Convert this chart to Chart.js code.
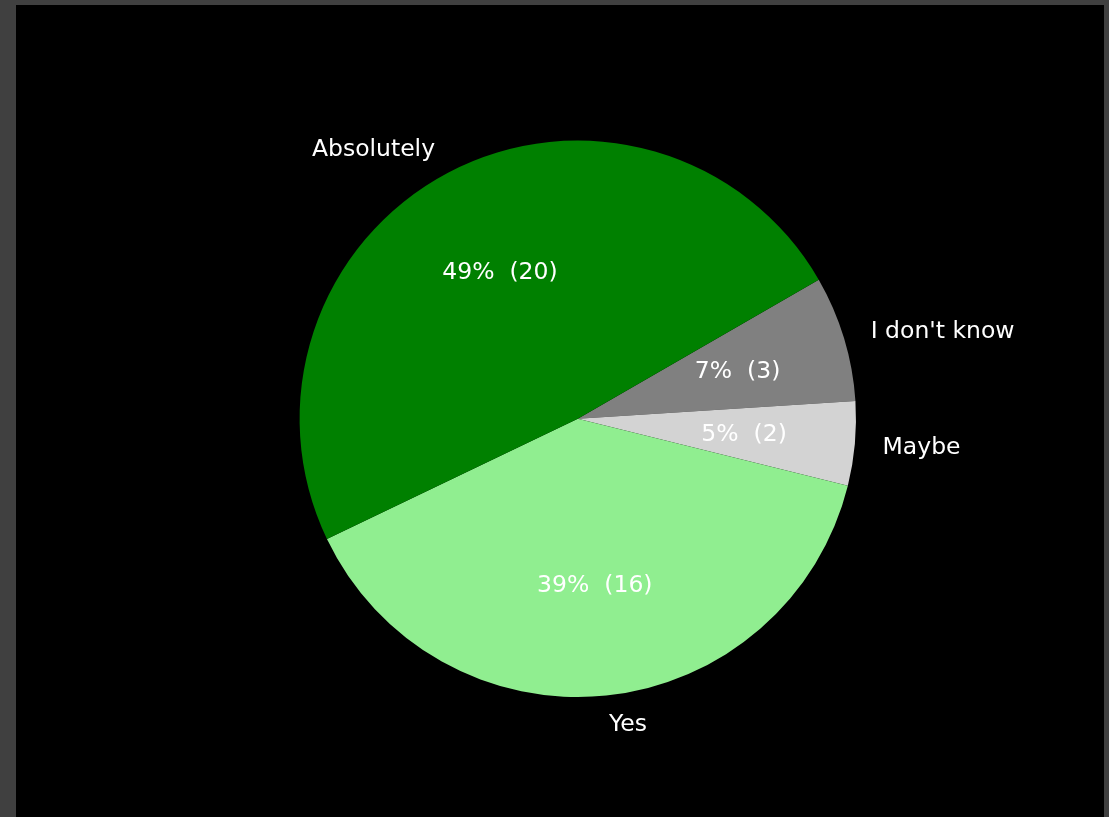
<!DOCTYPE html>
<html>
<head>
<meta charset="utf-8">
<title>Survey responses</title>
<script src="https://cdn.jsdelivr.net/npm/chart.js@4/dist/chart.umd.min.js"></script>
<style>
  html, body { margin: 0; padding: 0; background: #404040; width: 1109px; height: 817px; overflow: hidden; }
  #wrap { position: absolute; left: 16px; top: 5px; width: 1088px; height: 812px; background: #000; }
  canvas { display: block; }
</style>
</head>
<body>
<div id="wrap"><canvas id="pie" width="1088" height="812"></canvas></div>
<script>
// Answers, in drawing order (clockwise from the upper right)
const categories = ["I don't know", "Maybe", "Yes", "Absolutely"];
const counts = [3, 2, 16, 20];
const sliceColors = ["#808080", "#d3d3d3", "#90ee90", "#008000"];

const LABEL_FONT = '23.5px "DejaVu Sans", sans-serif';

// Writes each category name outside its slice and "pct%  (n)" inside it
const sliceLabels = {
  id: 'sliceLabels',
  afterDatasetsDraw(chart) {
    const ctx = chart.ctx;
    const meta = chart.getDatasetMeta(0);
    const values = chart.data.datasets[0].data;
    const total = values.reduce((a, b) => a + b, 0);
    const dy = 1.5; // small baseline nudge so the text box sits centred on its anchor
    ctx.save();
    ctx.font = LABEL_FONT;
    ctx.fillStyle = '#ffffff';
    ctx.textBaseline = 'middle';
    meta.data.forEach((arc, i) => {
      const p = arc.getProps(['x', 'y', 'startAngle', 'endAngle', 'outerRadius'], true);
      const mid = (p.startAngle + p.endAngle) / 2;
      const c = Math.cos(mid), s = Math.sin(mid);
      // category name
      ctx.textAlign = c >= 0 ? 'left' : 'right';
      ctx.fillText(chart.data.labels[i], p.x + c * p.outerRadius * 1.1, p.y + s * p.outerRadius * 1.1 + dy);
      // share and count
      const pct = Math.round(values[i] / total * 100);
      ctx.textAlign = 'center';
      ctx.fillText(pct + '%  (' + values[i] + ')', p.x + c * p.outerRadius * 0.6, p.y + s * p.outerRadius * 0.6 + dy);
    });
    ctx.restore();
  }
};

new Chart(document.getElementById('pie'), {
  type: 'pie',
  data: {
    labels: categories,
    datasets: [{
      data: counts,
      backgroundColor: sliceColors,
      borderWidth: 0,
      hoverOffset: 0
    }]
  },
  options: {
    responsive: false,
    animation: false,
    rotation: 60,
    layout: { padding: { left: 283.6, right: 248, top: 135.6, bottom: 120 } },
    plugins: {
      legend: { display: false },
      tooltip: { enabled: false }
    },
    events: []
  },
  plugins: [sliceLabels]
});
</script>
</body>
</html>
